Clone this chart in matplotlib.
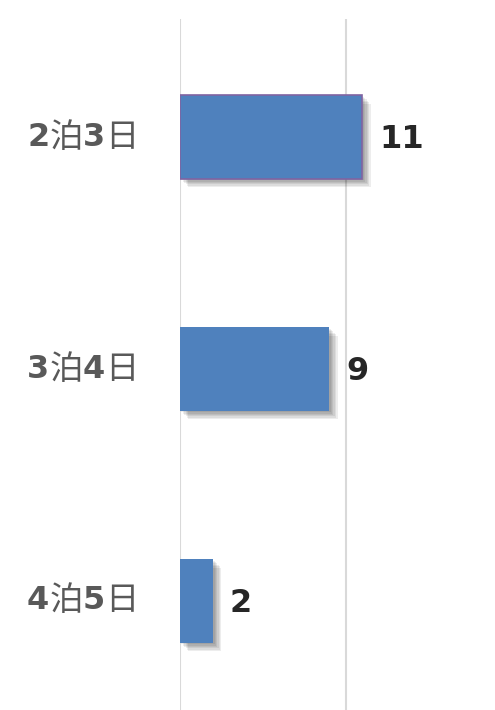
import matplotlib
matplotlib.use("Agg")
import matplotlib.pyplot as plt
import matplotlib.patheffects as pe

categories = ["2泊3日", "3泊4日", "4泊5日"]
values = [11, 9, 2]
label_runs = [[("2", True), ("泊", False), ("3", True), ("日", False)],
              [("3", True), ("泊", False), ("4", True), ("日", False)],
              [("4", True), ("泊", False), ("5", True), ("日", False)]]

W, H = 495, 710
fig = plt.figure(figsize=(W / 100, H / 100), dpi=100)
ax = fig.add_axes([180 / W, 0, 1 - 180 / W, 1 - 19 / H])

ypos = list(range(len(categories)))
shadow = [pe.SimplePatchShadow(offset=(d, -d), shadow_rgbFace="#000000", alpha=0.07) for d in (1, 2, 3, 4, 5, 6)]
bars = ax.barh(ypos, values, height=0.36, color="#4f81bd", zorder=3)
for i, b in enumerate(bars):
    b.set_path_effects(shadow + [pe.Normal()])
    if i == 0:
        b.set_edgecolor("#8064a2")
        b.set_linewidth(1.2)

ax.set_xlim(0, 19)
ax.set_ylim(2.47, -0.509)
ax.set_xticks([0, 10])
ax.grid(axis="x", color="#d9d9d9", linewidth=1.5, zorder=0)
ax.tick_params(left=False, bottom=False, labelleft=False, labelbottom=False)
for s in ax.spines.values():
    s.set_visible(False)

for y, v in zip(ypos, values):
    ax.annotate(str(v), (v, y), xytext=(12, -2), textcoords="offset points",
                ha="left", va="center", fontsize=23, fontweight="bold",
                color="#262626", family="DejaVu Sans")

# category labels with mixed weight
fig.canvas.draw()
r = fig.canvas.get_renderer()
for y, runs in zip(ypos, label_runs):
    ydisp = ax.transData.transform((0, y))[1]
    x = 27
    for txt, bold in runs:
        fam = ["DejaVu Sans"] if bold else ["Noto Sans CJK JP"]
        t = fig.text(x / W, ydisp / H, txt, fontsize=23 if bold else 24,
                     fontweight="bold" if bold else "normal",
                     family=fam, color="#595959", ha="left", va="center")
        bb = t.get_window_extent(renderer=r)
        x += bb.width

fig.savefig("out.png", dpi=100)
